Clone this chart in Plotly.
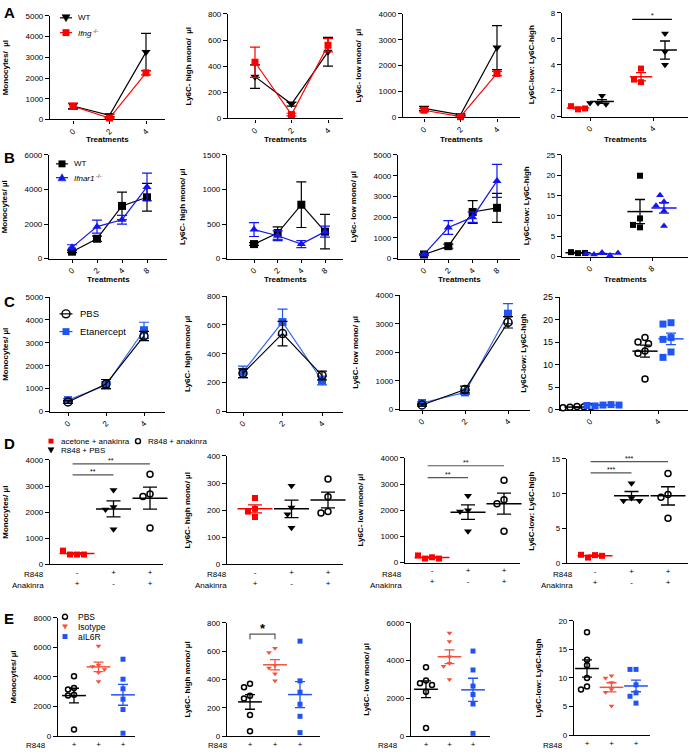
import numpy as np
import plotly.graph_objects as go

W, H = 689, 754
FONT = "Arial, Liberation Sans, sans-serif"

# ===================== DATA =====================
# Row A: WT vs Ifng-/- over treatments
A_treat = ["0", "2", "4"]
A_mono_wt, A_mono_wt_sem = [650, 200, 3250], [120, 60, 900]
A_mono_ko, A_mono_ko_sem = [640, 70, 2250], [150, 30, 100]
A_high_wt, A_high_wt_sem = [320, 110, 510], [90, 15, 110]
A_high_ko, A_high_ko_sem = [430, 30, 560], [115, 10, 50]
A_low_wt, A_low_wt_sem = [350, 100, 2700], [80, 30, 850]
A_low_ko, A_low_ko_sem = [280, 30, 1700], [60, 10, 80]
A_ratio_cats = ["0", "4"]
A_ratio_ko = [[0.55, 0.80, 0.62], [3.70, 2.65, 2.85]]
A_ratio_wt = [[1.60, 1.05, 0.95, 1.05], [6.40, 5.00, 4.00]]

# Row B: WT vs Ifnar1-/-
B_treat = ["0", "2", "4", "8"]
B_mono_wt, B_mono_wt_sem = [400, 1150, 3050, 3550], [60, 150, 800, 800]
B_mono_ko, B_mono_ko_sem = [650, 1850, 2250, 4150], [150, 380, 250, 800]
B_high_wt, B_high_wt_sem = [210, 370, 780, 390], [20, 90, 330, 250]
B_high_ko, B_high_ko_sem = [420, 330, 210, 390], [100, 70, 50, 80]
B_low_wt, B_low_wt_sem = [200, 600, 2250, 2450], [40, 100, 550, 700]
B_low_ko, B_low_ko_sem = [200, 1500, 2000, 3750], [40, 330, 250, 800]
B_ratio_cats = ["0", "8"]
B_ratio_wt = [[0.85, 1.10, 0.90], [19.9, 9.4, 7.2, 7.8]]
B_ratio_ko = [[1.0, 0.5, 0.3, 0.7, 0.9], [13.5, 12.5, 15.1, 11.2, 7.5]]

# Row C: PBS vs Etanercept
C_treat = ["0", "2", "4"]
C_mono_pbs, C_mono_pbs_sem = [420, 1200, 3300], [60, 200, 200]
C_mono_eta, C_mono_eta_sem = [500, 1150, 3550], [60, 150, 350]
C_high_pbs, C_high_pbs_sem = [265, 540, 250], [30, 85, 30]
C_high_eta, C_high_eta_sem = [275, 620, 215], [40, 90, 30]
C_low_pbs, C_low_pbs_sem = [160, 700, 3050], [40, 120, 200]
C_low_eta, C_low_eta_sem = [230, 600, 3350], [40, 70, 350]
C_ratio_cats = ["0", "4"]
C_ratio_pbs = [[0.7, 0.5, 0.6, 0.4, 0.6, 0.5], [16.0, 15.0, 14.6, 13.0, 12.5, 6.8]]
C_ratio_eta = [[1.0, 0.8, 1.1, 0.9, 1.0], [19.3, 19.0, 16.0, 15.6, 12.8, 11.6]]

# Row D: anakinra experiment
D_groups = ["acetone + anakinra", "R848 + PBS", "R848 + anakinra"]
D_r848 = ["-", "+", "+"]
D_anakinra = ["+", "-", "+"]
D_mono = [[380, 380, 380, 530], [2850, 2200, 2100, 1350], [3450, 2700, 2600, 1400]]
D_high = [[245, 205, 195, 175], [290, 210, 185, 135], [315, 250, 195, 190]]
D_low = [[200, 150, 150, 270], [2550, 2000, 1950, 1200], [3150, 2400, 2250, 1200]]
D_ratio = [[1.2, 0.85, 1.1, 1.25], [11.5, 9.4, 9.0, 9.0], [12.9, 9.9, 9.5, 6.5]]
D_sig_mono = [(0, 1, 3430, "**"), (0, 2, 3850, "**")]
D_sig_low = [(0, 1, 3245, "**"), (0, 2, 3700, "**")]
D_sig_ratio = [(0, 1, 13.0, "***"), (0, 2, 14.6, "***")]

# Row E: IL-6R blockade
E_groups = ["PBS", "Isotype", "aIL6R"]
E_r848 = ["+", "+", "+"]
E_mono = [[4050, 3250, 3150, 2800, 2750, 450], [6100, 4800, 4700, 4500, 4300, 3700],
          [5200, 3850, 3200, 2500, 1800, 200]]
E_high = [[370, 345, 285, 265, 150, 35], [620, 590, 500, 480, 440, 390],
          [670, 390, 310, 225, 140, 25]]
E_low = [[3650, 2950, 2800, 2700, 2350, 430], [5450, 5000, 4200, 3850, 3700, 3000],
         [4500, 3500, 2650, 2200, 1700, 150]]
E_ratio = [[18.0, 13.2, 12.2, 10.0, 8.5, 8.0], [10.4, 10.0, 9.2, 8.0, 7.5, 5.1],
           [11.5, 11.5, 8.8, 7.4, 6.8, 5.6]]

# ===================== STYLE / LAYOUT =====================
BLACK = "#000000"
RED = "#ff0000"
BLUE_B = "#1414f0"
BLUE_C = "#1f55f5"
BLUE_C_LINE = "#3c6cf5"
ORANGE = "#f7513a"
BLUE_E = "#2052f5"

# pixel boxes: x0, x1, first tick px, last tick px, y px of top value, y px of zero
PANELS = [
    [(50, 165, 73, 146, 11, 116), (228, 343, 255, 328, 9, 115),
     (403, 520, 424, 497, 9, 114), (562, 688, 590, 653, 8, 113)],
    [(49, 167, 72, 147, 152, 257), (227, 343, 254, 325, 152, 257),
     (398, 520, 424, 497, 152, 257), (562, 688, 590, 652, 152, 255)],
    [(50, 165, 68, 144, 296, 412), (227, 343, 243, 322, 295, 412),
     (400, 530, 422, 508, 294, 410), (560, 688, 590, 658, 296, 410)],
    [(50, 163, 77, 150, 461, 567), (227, 343, 255, 328, 457, 567),
     (405, 520, 432, 504, 459, 565), (567, 688, 595, 668, 460, 566)],
    [(58, 135, 74, 123, 621, 741), (227, 320, 250, 300, 626, 741),
     (411, 490, 426, 473, 626, 741), (574, 650, 587, 636, 624, 740)],
]
YSPEC = [
    [(5000, 1000), (800, 200), (4000, 1000), (8, 2)],
    [(6000, 2000), (1500, 500), (5000, 1000), (25, 5)],
    [(5000, 1000), (800, 200), (4000, 1000), (25, 5)],
    [(4000, 1000), (400, 100), (4000, 1000), (15, 5)],
    [(8000, 2000), (800, 200), (6000, 2000), (20, 5)],
]
YTITLES = [
    ["Monocytes/  µl", "Ly6C- high mono/  µl", "Ly6c- low mono/  µl", "Ly6C-low: Ly6C-high"],
    ["Monocytes/ µl", "Ly6C- high mono/ µl", "Ly6c- low mono/ µl", "Ly6C-low: Ly6C-high"],
    ["Monocytes/ µl", "Ly6C- high mono/ µl", "Ly6C- low mono/ µl", "Ly6C-low: Ly6C-high"],
    ["Monocytes/ µl", "Ly6C- high mono/ µl", "Ly6C- low mono/ µl", "Ly6C-low: Ly6C-high"],
    ["Monocytes/ µl", "Ly6C- high mono/ µl", "Ly6C- low mono/ µl", "Ly6C-low: Ly6C-high"],
]
XTITLE_Y = {0: 136, 1: 278}   # "Treatments" rows

fig = go.Figure()
shapes, annots = [], []


def ids(idx):
    s = "" if idx == 1 else str(idx)
    return "x" + s, "y" + s, "xaxis" + s, "yaxis" + s


def setup(r, c, ticktext, xtitle=None, rotate=True, xticks=True, ytickfs=8):
    idx = r * 4 + c + 1
    x0, x1, t0, t1, yt, yb = PANELS[r][c]
    ymax, dt = YSPEC[r][c]
    n = len(ticktext)
    ppx = (t1 - t0) / (n - 1)
    ppy = (yb - yt) / ymax
    xr = [-(t0 - x0) / ppx, (n - 1) + (x1 - t1) / ppx]
    xa, ya, xk, yk = ids(idx)
    tv = [dt * i for i in range(int(round(ymax / dt)) + 1)]
    tt = [("%g" % v) for v in tv]
    fig.update_layout(**{
        xk: dict(domain=[x0 / W, x1 / W], range=xr, anchor=ya, showgrid=False, zeroline=False,
                 showline=True, linecolor=BLACK, linewidth=1.2,
                 tickmode="array", tickvals=list(range(n)), ticktext=ticktext,
                 ticks="outside" if xticks else "", ticklen=3, tickwidth=1, tickcolor=BLACK,
                 tickangle=-45 if rotate else 0,
                 tickfont=dict(size=8, color=BLACK)),
        yk: dict(domain=[1 - yb / H, 1 - yt / H], range=[0, ymax], anchor=xa, showgrid=False,
                 zeroline=False, showline=True, linecolor=BLACK, linewidth=1.2,
                 tickmode="array", tickvals=tv, ticktext=tt, ticks="outside", ticklen=4,
                 tickwidth=1, tickcolor=BLACK, tickfont=dict(size=ytickfs, color=BLACK),
                 title=dict(text="<b>%s</b>" % YTITLES[r][c], font=dict(size=8))),
    })
    if xtitle:
        annots.append(dict(x=(x0 + x1) / 2 / W, y=1 - XTITLE_Y[r] / H, xref="paper", yref="paper",
                           text="<b>%s</b>" % xtitle, showarrow=False, xanchor="center",
                           yanchor="middle", font=dict(size=8, color=BLACK)))
    return dict(idx=idx, xa=xa, ya=ya, ppx=ppx, ppy=ppy)


def line_series(sc, y, sem, color, symbol, lcolor=None, ms=8):
    open_ = symbol.endswith("-open")
    fig.add_trace(go.Scatter(
        x=list(range(len(y))), y=y, mode="lines+markers",
        line=dict(color=lcolor or color, width=1.2),
        marker=dict(symbol=symbol, size=ms, color=color,
                    line=dict(width=1.5 if open_ else 0, color=color)),
        error_y=dict(type="data", array=sem, visible=True, color=color, thickness=1.2, width=5),
        xaxis=sc["xa"], yaxis=sc["ya"], showlegend=False, cliponaxis=False, hoverinfo="skip"))


def swarm(vals, ppx, ppy, d):
    placed, offs = [], []
    cands = [0.0] + [s * m * d * 0.5 for m in range(1, 30) for s in (-1, 1)]
    for v in vals:
        yp = v * ppy
        for xp in cands:
            if all((xp - a) ** 2 + (yp - b) ** 2 >= (0.95 * d) ** 2 for a, b in placed):
                break
        placed.append((xp, yp))
        offs.append(xp / ppx)
    return offs


def dot_group(sc, xc, vals, color, symbol, ms, mean_w, cap):
    open_ = symbol.endswith("-open")
    offs = swarm(vals, sc["ppx"], sc["ppy"], ms + 1)
    fig.add_trace(go.Scatter(
        x=[xc + o for o in offs], y=vals, mode="markers",
        marker=dict(symbol=symbol, size=ms, color=color,
                    line=dict(width=1.5 if open_ else 0, color=color)),
        xaxis=sc["xa"], yaxis=sc["ya"], showlegend=False, cliponaxis=False, hoverinfo="skip"))
    m = float(np.mean(vals))
    se = float(np.std(vals, ddof=1) / np.sqrt(len(vals)))
    fig.add_trace(go.Scatter(
        x=[xc], y=[m], mode="markers",
        marker=dict(symbol="line-ew", size=mean_w, color=color, line=dict(width=1.5, color=color)),
        error_y=dict(type="data", array=[se], visible=True, color=color, thickness=1.3, width=cap),
        xaxis=sc["xa"], yaxis=sc["ya"], showlegend=False, cliponaxis=False, hoverinfo="skip"))


def sig_bar(sc, a, b, y, text, ext=0.12, color="#555555", fs=7):
    shapes.append(dict(type="line", xref=sc["xa"], yref=sc["ya"], x0=a - ext, x1=b, y0=y, y1=y,
                       line=dict(color=color, width=1.2)))
    annots.append(dict(x=(a - ext + b) / 2, y=y, xref=sc["xa"], yref=sc["ya"], text=text,
                       showarrow=False, yanchor="bottom", yshift=-2, font=dict(size=fs, color=BLACK)))


# ---------- Row A ----------
for c, (wt, wts, ko, kos) in enumerate([
        (A_mono_wt, A_mono_wt_sem, A_mono_ko, A_mono_ko_sem),
        (A_high_wt, A_high_wt_sem, A_high_ko, A_high_ko_sem),
        (A_low_wt, A_low_wt_sem, A_low_ko, A_low_ko_sem)]):
    sc = setup(0, c, A_treat, xtitle="Treatments")
    line_series(sc, wt, wts, BLACK, "triangle-down")
    line_series(sc, ko, kos, RED, "square", ms=7)
sc = setup(0, 3, A_ratio_cats, xtitle="Treatments")
dA = 12 / sc["ppx"]
for i in range(2):
    dot_group(sc, i - dA, A_ratio_ko[i], RED, "square", 6, 16, 5)
    dot_group(sc, i + dA, A_ratio_wt[i], BLACK, "triangle-down", 7, 17, 5)
sig_bar(sc, 1 - 0.2, 1 + 0.3, 7.5, "*", ext=0.13, color=BLACK)

# ---------- Row B ----------
for c, (wt, wts, ko, kos) in enumerate([
        (B_mono_wt, B_mono_wt_sem, B_mono_ko, B_mono_ko_sem),
        (B_high_wt, B_high_wt_sem, B_high_ko, B_high_ko_sem),
        (B_low_wt, B_low_wt_sem, B_low_ko, B_low_ko_sem)]):
    sc = setup(1, c, B_treat, xtitle="Treatments")
    line_series(sc, wt, wts, BLACK, "square", ms=8)
    line_series(sc, ko, kos, BLUE_B, "triangle-up", ms=8)
sc = setup(1, 3, B_ratio_cats, xtitle="Treatments")
dB = 12 / sc["ppx"]
for i in range(2):
    dot_group(sc, i - dB, B_ratio_wt[i], BLACK, "square", 6, 18, 5)
    dot_group(sc, i + dB, B_ratio_ko[i], BLUE_B, "triangle-up", 7, 18, 5)

# ---------- Row C ----------
for c, (pb, pbs, et, ets) in enumerate([
        (C_mono_pbs, C_mono_pbs_sem, C_mono_eta, C_mono_eta_sem),
        (C_high_pbs, C_high_pbs_sem, C_high_eta, C_high_eta_sem),
        (C_low_pbs, C_low_pbs_sem, C_low_eta, C_low_eta_sem)]):
    sc = setup(2, c, C_treat)
    line_series(sc, et, ets, BLUE_C, "square", lcolor=BLUE_C_LINE, ms=8)
    line_series(sc, pb, pbs, BLACK, "circle-open", ms=8)
sc = setup(2, 3, C_ratio_cats, ytickfs=9)
dC = 13 / sc["ppx"]
for i in range(2):
    dot_group(sc, i - dC, C_ratio_pbs[i], BLACK, "circle-open", 6, 18, 5)
    dot_group(sc, i + dC, C_ratio_eta[i], BLUE_C, "square", 7, 18, 5)

# ---------- Row D ----------
D_ticks = ["%s<br>%s" % (a, b) for a, b in zip(D_r848, D_anakinra)]
D_styles = [(RED, "square", 6), (BLACK, "triangle-down", 7), (BLACK, "circle-open", 6)]
D_label_right = [46, 229, 404, 575]
for c, (vals, sig) in enumerate([(D_mono, D_sig_mono), (D_high, None),
                                 (D_low, D_sig_low), (D_ratio, D_sig_ratio)]):
    sc = setup(3, c, D_ticks, rotate=False, xticks=False)
    for g, (col, sym, ms) in enumerate(D_styles):
        dot_group(sc, g, vals[g], col, sym, ms, 25, 7)
    if sig:
        for a, b, y, t in sig:
            sig_bar(sc, a, b, y, t)
    for lab, yp in (("R848", 577), ("Anakinra", 588)):
        annots.append(dict(x=D_label_right[c] / W, y=1 - yp / H, xref="paper", yref="paper",
                           text=lab, showarrow=False, xanchor="right", yanchor="middle",
                           font=dict(size=8, color=BLACK)))

# ---------- Row E ----------
E_styles = [(BLACK, "circle-open", 5), (ORANGE, "triangle-down", 5), (BLUE_E, "square", 5)]
E_label_right = [48, 230, 400, 565]
for c, vals in enumerate([E_mono, E_high, E_low, E_ratio]):
    sc = setup(4, c, E_r848, rotate=False, xticks=False)
    for g, (col, sym, ms) in enumerate(E_styles):
        dot_group(sc, g, vals[g], col, sym, ms, 17, 5)
    annots.append(dict(x=E_label_right[c] / W, y=1 - 750 / H, xref="paper", yref="paper",
                       text="R848", showarrow=False, xanchor="right", yanchor="middle",
                       font=dict(size=8, color=BLACK)))
    if c == 1:
        xa, ya = sc["xa"], sc["ya"]
        shapes.append(dict(type="path", xref=xa, yref=ya,
                           path="M 0,684 L 0,719 L 1,719 L 1,684",
                           line=dict(color="#555555", width=1.2)))
        annots.append(dict(x=0.5, y=719, xref=xa, yref=ya, text="<b>*</b>", showarrow=False,
                           yanchor="bottom", yshift=-4, font=dict(size=13, color=BLACK)))


# ---------- manual legends ----------
def P(x, y):
    return x / W, 1 - y / H


def key(x, y, symbol, color, size, filled=True, line_len=0):
    if line_len:
        shapes.append(dict(type="line", xref="paper", yref="paper",
                           x0=(x - line_len / 2) / W, x1=(x + line_len / 2) / W,
                           y0=1 - y / H, y1=1 - y / H, line=dict(color=color, width=1.2)))
    h = size / 2
    fill = color if filled else "rgba(0,0,0,0)"
    ln = dict(color=color, width=0 if filled else 1.4)
    if symbol == "square":
        shapes.append(dict(type="rect", xref="paper", yref="paper", x0=(x - h) / W, x1=(x + h) / W,
                           y0=1 - (y + h) / H, y1=1 - (y - h) / H, fillcolor=fill, line=ln))
    elif symbol == "circle":
        shapes.append(dict(type="circle", xref="paper", yref="paper", x0=(x - h) / W, x1=(x + h) / W,
                           y0=1 - (y + h) / H, y1=1 - (y - h) / H, fillcolor=fill, line=ln))
    else:
        s = 1 if symbol == "tri-down" else -1
        pts = [(x - h, y - s * h * 0.8), (x + h, y - s * h * 0.8), (x, y + s * h)]
        path = "M " + " L ".join("%.5f,%.5f" % P(a, b) for a, b in pts) + " Z"
        shapes.append(dict(type="path", xref="paper", yref="paper", path=path,
                           fillcolor=fill, line=dict(color=color, width=0.5)))


def ltext(x, y, text, size=8):
    annots.append(dict(x=x / W, y=1 - y / H, xref="paper", yref="paper", text=text,
                       showarrow=False, xanchor="left", yanchor="middle",
                       font=dict(size=size, color=BLACK)))


# A legend
key(66, 13, "tri-down", BLACK, 8, line_len=12); ltext(76, 13, "WT")
key(66, 28, "square", RED, 7, line_len=12); ltext(76, 28, "<i>Ifng</i><sup> -/-</sup>")
# B legend
key(62, 161, "square", BLACK, 7, line_len=12); ltext(72, 161, "WT")
key(62, 175, "tri-up", BLUE_B, 8, line_len=12); ltext(72, 175, "<i>Ifnar1</i><sup> -/-</sup>")
# C legend
key(66, 313, "circle", BLACK, 8, filled=False, line_len=13); ltext(78, 313, "PBS", 9.5)
key(66, 331, "square", BLUE_C, 7, line_len=13); ltext(78, 331, "Etanercept", 9.5)
# D legend
key(51, 442, "square", RED, 5); ltext(59, 442, "acetone + anakinra")
key(51, 451, "tri-down", BLACK, 6); ltext(59, 451, "R848 + PBS")
key(138, 442, "circle", BLACK, 5, filled=False); ltext(146, 442, "R848 + anakinra")
# E legend
key(65, 620, "circle", BLACK, 5, filled=False); ltext(76, 620, "PBS", 8.5)
key(65, 630, "tri-down", ORANGE, 5); ltext(76, 630, "Isotype", 8.5)
key(65, 640, "square", BLUE_E, 5); ltext(76, 640, "aIL6R", 8.5)

# panel letters
for lab, y in (("A", 8), ("B", 155), ("C", 300), ("D", 444), ("E", 622)):
    annots.append(dict(x=2 / W, y=1 - y / H, xref="paper", yref="paper", text="<b>%s</b>" % lab,
                       showarrow=False, xanchor="left", yanchor="middle",
                       font=dict(size=15, color=BLACK)))

fig.update_layout(width=W, height=H, margin=dict(l=0, r=0, t=0, b=0),
                  paper_bgcolor="white", plot_bgcolor="white", showlegend=False,
                  font=dict(family=FONT, color=BLACK, size=8),
                  shapes=shapes, annotations=annots)
fig.write_html("out.html", config={"displayModeBar": False},
               post_script="document.body.style.margin='0';"
                           "document.body.style.overflow='hidden';")
